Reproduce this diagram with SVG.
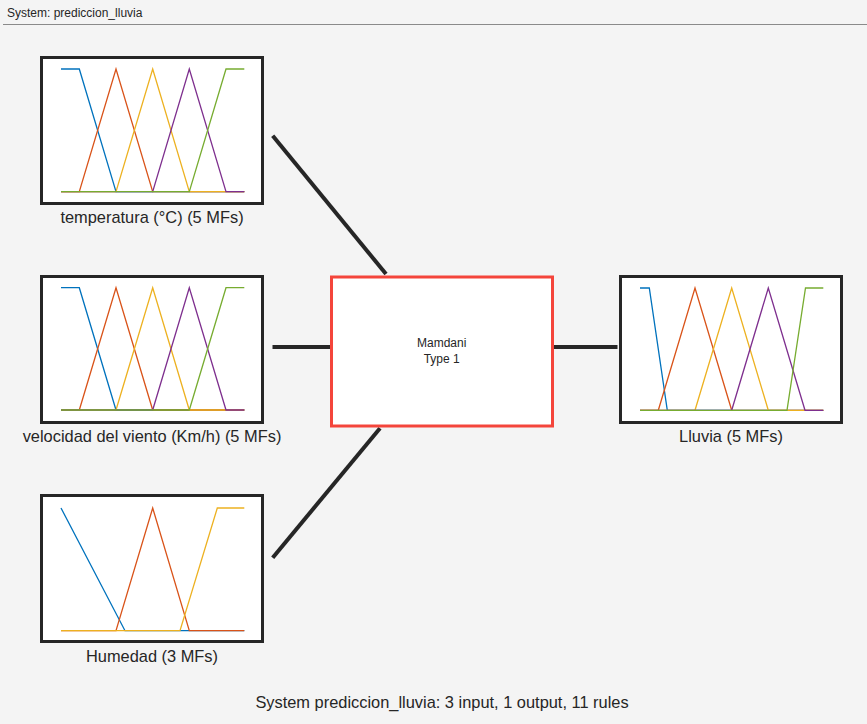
<svg xmlns="http://www.w3.org/2000/svg" width="867" height="724" viewBox="0 0 867 724">
<style>
.bg{fill:#f4f4f4}
.box{fill:#ffffff;stroke:#262626;stroke-width:3}
.fis{fill:#ffffff;stroke:#f4453b;stroke-width:3}
.mf{fill:none;stroke-width:1.3;stroke-linejoin:miter}
.c1{stroke:#0072bd}.c2{stroke:#d95319}.c3{stroke:#edb120}.c4{stroke:#7e2f8e}.c5{stroke:#77ac30}
.lbl{font-family:"Liberation Sans",Arial,sans-serif;font-size:16.4px;fill:#262626;text-anchor:middle}
.small{font-family:"Liberation Sans",Arial,sans-serif;font-size:12px;fill:#262626}
.conn{stroke:#262626;stroke-width:4;fill:none}
</style>
<rect class="bg" x="0" y="0" width="867" height="724"/>
<g id="title">
<text class="small" x="7" y="17">System: prediccion_lluvia</text>
<line x1="3" y1="24.5" x2="867" y2="24.5" stroke="#8a8a8a" stroke-width="1.2"/>
</g>
<g id="connectors">
<line class="conn" x1="272.7" y1="135.7" x2="386" y2="274"/>
<line class="conn" x1="272.5" y1="347" x2="330" y2="347"/>
<line class="conn" x1="272.7" y1="557.7" x2="380" y2="428.3"/>
<line class="conn" x1="554" y1="347" x2="617.5" y2="347"/>
</g>
<g id="temperatura">
<rect class="box" x="41.5" y="57.5" width="221" height="146"/>
<polyline class="mf c1" points="61,69 79.3,69 116,191.7 244.3,191.7"/>
<polyline class="mf c2" points="61,191.7 79.3,191.7 116,69 152.7,191.7 244.3,191.7"/>
<polyline class="mf c3" points="61,191.7 116,191.7 152.7,69 189.3,191.7 244.3,191.7"/>
<polyline class="mf c4" points="61,191.7 152.7,191.7 189.3,69 226,191.7 244.3,191.7"/>
<polyline class="mf c5" points="61,191.7 189.3,191.7 226,69 244.3,69"/>
<text class="lbl" x="152" y="223">temperatura (°C) (5 MFs)</text>
</g>
<g id="velocidad">
<rect class="box" x="41.5" y="276.5" width="221" height="146"/>
<polyline class="mf c1" points="61,287.7 79.3,287.7 116,410 244.3,410"/>
<polyline class="mf c2" points="61,410 79.3,410 116,287.7 152.7,410 244.3,410"/>
<polyline class="mf c3" points="61,410 116,410 152.7,287.7 189.3,410 244.3,410"/>
<polyline class="mf c4" points="61,410 152.7,410 189.3,287.7 226,410 244.3,410"/>
<polyline class="mf c5" points="61,410 189.3,410 226,287.7 244.3,287.7"/>
<text class="lbl" x="152" y="442">velocidad del viento (Km/h) (5 MFs)</text>
</g>
<g id="humedad">
<rect class="box" x="41.5" y="495.5" width="221" height="146"/>
<polyline class="mf c1" points="61,508 125,630.7 244.3,630.7"/>
<polyline class="mf c2" points="61,630.7 116,630.7 152.7,508 189.3,630.7 244.3,630.7"/>
<polyline class="mf c3" points="61,630.7 180,630.7 217.3,508 244.3,508"/>
<text class="lbl" x="152" y="662">Humedad (3 MFs)</text>
</g>
<g id="mamdani">
<rect class="fis" x="331.5" y="277" width="221" height="149"/>
<text class="small" x="441.7" y="347" text-anchor="middle">Mamdani</text>
<text class="small" x="441.7" y="363" text-anchor="middle">Type 1</text>
</g>
<g id="lluvia">
<rect class="box" x="620.5" y="276.5" width="221" height="146"/>
<polyline class="mf c1" points="640,288 649.3,288 667.3,410.3 823.3,410.3"/>
<polyline class="mf c2" points="640,410.3 658.3,410.3 695,288 731.7,410.3 823.3,410.3"/>
<polyline class="mf c3" points="640,410.3 695,410.3 731.7,288 768.3,410.3 823.3,410.3"/>
<polyline class="mf c4" points="640,410.3 731.7,410.3 768.3,288 805,410.3 823.3,410.3"/>
<polyline class="mf c5" points="640,410.3 787,410.3 805.5,288 823.3,288"/>
<text class="lbl" x="731" y="442">Lluvia (5 MFs)</text>
</g>
<g id="summary">
<text class="lbl" x="442" y="708">System prediccion_lluvia: 3 input, 1 output, 11 rules</text>
</g>
</svg>
